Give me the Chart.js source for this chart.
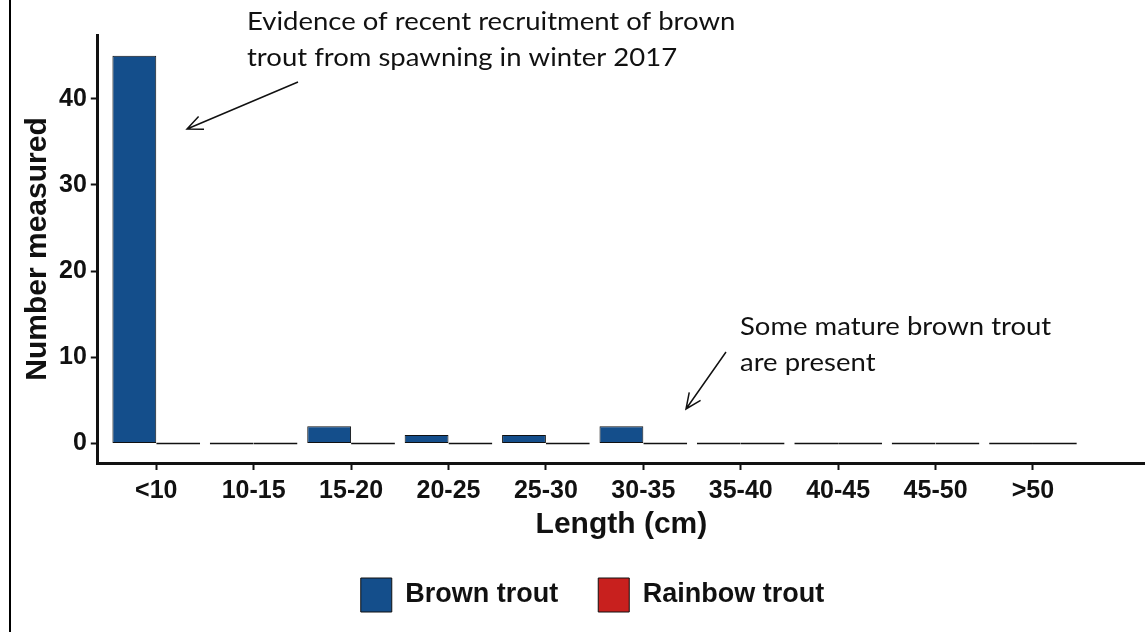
<!DOCTYPE html>
<html>
<head>
<meta charset="utf-8">
<script src="https://cdn.jsdelivr.net/npm/chart.js@4/dist/chart.umd.min.js"></script>
<style>
  html, body { margin: 0; padding: 0; background: #fff; }
  #wrap { position: relative; width: 1145px; height: 632px; }
  #edge { position: absolute; left: 9px; top: 0; width: 2px; height: 632px; background: #000; }
</style>
</head>
<body>
<div id="wrap">
  <div id="edge"></div>
  <canvas id="trout" width="1145" height="632"></canvas>
</div>
<script>
const lengthClasses = ['<10', '10-15', '15-20', '20-25', '25-30', '30-35', '35-40', '40-45', '45-50', '>50'];
const brownTrout = [45, 0, 2, 1, 1, 2, 0, 0, 0, 0];
const rainbowTrout = [0, 0, 0, 0, 0, 0, 0, 0, 0, 0];
const yTicks = [0, 10, 20, 30, 40];

const axisFont = 'Liberation Sans, Arial, sans-serif';
const noteFont = 'Lato, Calibri, sans-serif';

function arrow(ctx, x1, y1, x2, y2) {
  let a = Math.atan2(y2 - y1, x2 - x1);
  let h = 17;
  ctx.beginPath();
  ctx.moveTo(x1, y1);
  ctx.lineTo(x2, y2);
  ctx.moveTo(x2 - h * Math.cos(a - 0.42), y2 - h * Math.sin(a - 0.42));
  ctx.lineTo(x2, y2);
  ctx.lineTo(x2 - h * Math.cos(a + 0.42), y2 - h * Math.sin(a + 0.42));
  ctx.stroke();
}

// the note text is a bit wider than the font, so stretch it sideways
function note(ctx, text, x, y) {
  ctx.save();
  ctx.translate(x, y);
  ctx.scale(1.1, 1);
  ctx.fillText(text, 0, 0);
  ctx.restore();
}

// text notes and arrows drawn over the chart
const notes = {
  id: 'notes',
  afterDraw(chart) {
    let ctx = chart.ctx;
    ctx.save();
    ctx.fillStyle = '#111';
    ctx.strokeStyle = '#111';
    ctx.lineWidth = 1.5;
    ctx.font = '25px ' + noteFont;
    ctx.textBaseline = 'middle';
    ctx.textAlign = 'left';
    note(ctx, 'Evidence of recent recruitment of brown', 247, 22);
    note(ctx, 'trout from spawning in winter 2017', 247, 58);
    note(ctx, 'Some mature brown trout', 740, 327);
    note(ctx, 'are present', 740, 363);
    arrow(ctx, 298, 82, 187, 129);
    arrow(ctx, 726, 352, 686, 409);
    ctx.restore();
  }
};

window.addEventListener('DOMContentLoaded', () => {
  let ctx = document.getElementById('trout').getContext('2d');
  let toPoints = arr => arr.map((v, i) => ({ x: i, y: v }));
  new Chart(ctx, {
    type: 'bar',
    data: {
      datasets: [
        {
          label: 'Brown trout',
          data: toPoints(brownTrout),
          backgroundColor: '#144e8b',
          borderColor: '#111',
          borderWidth: 1,
          borderSkipped: false,
          minBarLength: 2
        },
        {
          label: 'Rainbow trout',
          data: toPoints(rainbowTrout),
          backgroundColor: '#c8201e',
          borderColor: '#111',
          borderWidth: 1,
          borderSkipped: false,
          minBarLength: 2
        }
      ]
    },
    options: {
      responsive: false,
      animation: false,
      layout: { padding: { top: 35, right: 0, left: 40, bottom: 10 } },
      datasets: { bar: { categoryPercentage: 0.9, barPercentage: 1.0 } },
      scales: {
        x: {
          type: 'linear',
          offset: false,
          min: -0.6,
          max: 10.15,
          afterBuildTicks: s => { s.ticks = lengthClasses.map((c, i) => ({ value: i })); },
          ticks: {
            autoSkip: false,
            maxRotation: 0,
            padding: 6,
            color: '#111',
            font: { family: axisFont, size: 25, weight: 'bold' },
            callback: v => lengthClasses[v]
          },
          grid: { offset: false, drawOnChartArea: false, tickLength: 7, tickWidth: 2, tickColor: '#111' },
          border: { display: true, color: '#111', width: 3 },
          title: {
            display: true,
            text: 'Length (cm)',
            color: '#111',
            padding: { top: -5, bottom: -5 },
            font: { family: axisFont, size: 30, weight: 'bold' }
          }
        },
        y: {
          type: 'linear',
          min: -2.25,
          max: 47.4,
          afterBuildTicks: s => { s.ticks = yTicks.map(v => ({ value: v })); },
          ticks: {
            padding: 4,
            color: '#111',
            font: { family: axisFont, size: 25, weight: 'bold' }
          },
          grid: { drawOnChartArea: false, tickLength: 7, tickWidth: 2, tickColor: '#111' },
          border: { display: true, color: '#111', width: 3 },
          title: {
            display: true,
            text: 'Number measured',
            color: '#111',
            padding: { top: -20, bottom: -1 },
            font: { family: axisFont, size: 30, weight: 'bold' }
          }
        }
      },
      plugins: {
        legend: {
          position: 'bottom',
          labels: {
            boxWidth: 31,
            boxHeight: 34,
            padding: 40,
            color: '#111',
            font: { family: axisFont, size: 27, weight: 'bold' }
          }
        },
        tooltip: { enabled: false }
      }
    },
    plugins: [notes]
  });
});
</script>
</body>
</html>
